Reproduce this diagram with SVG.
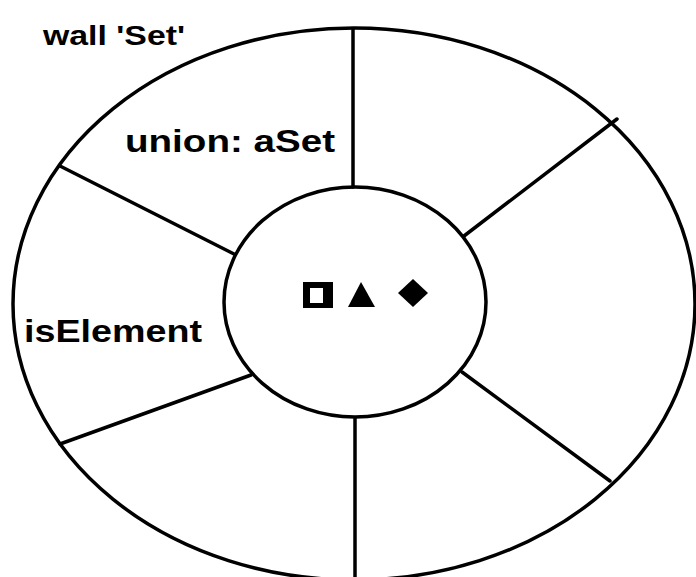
<svg xmlns="http://www.w3.org/2000/svg" width="696" height="577" viewBox="0 0 696 577">
  <style>
    .ln { fill: none; stroke: #000; stroke-width: 3.5; stroke-linecap: round; }
    .lbl { font-family: "Liberation Sans", Arial, sans-serif; font-weight: bold; fill: #000; }
    .sym { fill: #000; stroke: none; }
  </style>
  <rect x="0" y="0" width="696" height="577" fill="#fff"/>
  <g id="title">
    <text class="lbl" x="43" y="45" font-size="28" textLength="142" lengthAdjust="spacingAndGlyphs">wall 'Set'</text>
  </g>
  <g id="wall">
    <ellipse class="ln" cx="354" cy="304" rx="341" ry="276"/>
  </g>
  <g id="core">
    <ellipse class="ln" cx="355" cy="302" rx="131" ry="115"/>
  </g>
  <g id="connectors">
    <line class="ln" x1="353" y1="29" x2="353" y2="187"/>
    <line class="ln" x1="355" y1="418" x2="355" y2="580"/>
    <line class="ln" x1="464" y1="236" x2="617" y2="119"/>
    <line class="ln" x1="462" y1="372" x2="610" y2="481"/>
    <line class="ln" x1="60" y1="166" x2="234" y2="254"/>
    <line class="ln" x1="60" y1="444" x2="251" y2="375"/>
  </g>
  <g id="union">
    <text class="lbl" x="125" y="152" font-size="32" textLength="210" lengthAdjust="spacingAndGlyphs">union: aSet</text>
  </g>
  <g id="isElement">
    <text class="lbl" x="24" y="342" font-size="32" textLength="178" lengthAdjust="spacingAndGlyphs">isElement</text>
  </g>
  <g id="elements">
    <path class="sym" fill-rule="evenodd" d="M303 282 H333 V308 H303 Z M310 288 V303 H323 V288 Z"/>
    <polygon class="sym" points="361,282 375,307 348,307"/>
    <polygon class="sym" points="413,279 428,293 413,307 398,293"/>
  </g>
</svg>
